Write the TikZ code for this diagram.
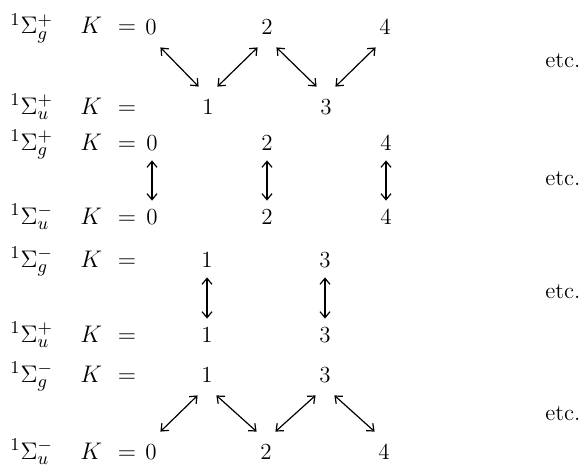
\documentclass[tikz,border=0pt]{standalone}
\usetikzlibrary{arrows.meta}
\DeclareMathSizes{11.5}{11.5}{9}{7}
\tikzset{
  lvl/.style={inner sep=0pt,minimum width=9pt,minimum height=20pt,
              font=\fontsize{11.5}{13}\selectfont},
  term/.style={anchor=base west,inner sep=0pt,
               font=\fontsize{11.5}{13}\selectfont},
  etcnode/.style={anchor=base west,inner sep=0pt,
                  font=\fontsize{11.5}{13}\selectfont},
  dbl/.style={{Straight Barb[length=3pt,width=5pt]}-{Straight Barb[length=3pt,width=5pt]},
              line width=0.6pt},
  vdbl/.style={dbl,shorten <=-1.5pt,shorten >=-2pt}
}

\begin{document}
\begin{tikzpicture}[x=0.5pt,y=-0.5pt]
  \useasboundingbox (0,0) rectangle (588,465);

  % term symbols
  \node[term] (sA) at (10,34)  {$^1\Sigma_g^+$};
  \node[term] (sB) at (10,114) {$^1\Sigma_u^+$};
  \node[term] (sC) at (10,150) {$^1\Sigma_g^+$};
  \node[term] (sD) at (10,224) {$^1\Sigma_u^-$};
  \node[term] (sE) at (10,267) {$^1\Sigma_g^-$};
  \node[term] (sF) at (10,342) {$^1\Sigma_u^+$};
  \node[term] (sG) at (10,382) {$^1\Sigma_g^-$};
  \node[term] (sH) at (10,459) {$^1\Sigma_u^-$};
  \foreach \r/\y in {A/34,B/114,C/150,D/224,E/267,F/342,G/382,H/459}
    \node[term] (k\r) at (80,\y) {$K\hspace{4.5pt}=$};

  % rotational levels
  \node[lvl] (a0) at (151,27)  {0};
  \node[lvl] (a2) at (267,27)  {2};
  \node[lvl] (a4) at (385,27)  {4};
  \node[lvl] (b1) at (208,107) {1};
  \node[lvl] (b3) at (326,107) {3};

  \node[lvl] (c0) at (152,143) {0};
  \node[lvl] (c2) at (267,143) {2};
  \node[lvl] (c4) at (386,143) {4};
  \node[lvl] (d0) at (152,217) {0};
  \node[lvl] (d2) at (267,217) {2};
  \node[lvl] (d4) at (386,217) {4};

  \node[lvl] (e1) at (207,260) {1};
  \node[lvl] (e3) at (325,260) {3};
  \node[lvl] (f1) at (207,335) {1};
  \node[lvl] (f3) at (325,335) {3};

  \node[lvl] (g1) at (207,375) {1};
  \node[lvl] (g3) at (325,375) {3};
  \node[lvl] (h0) at (151,452) {0};
  \node[lvl] (h2) at (266,452) {2};
  \node[lvl] (h4) at (384,452) {4};

  \node[etcnode] (etc1) at (545,68)  {etc.};
  \node[etcnode] (etc2) at (545,185) {etc.};
  \node[etcnode] (etc3) at (545,298) {etc.};
  \node[etcnode] (etc4) at (545,420) {etc.};

  % transitions
  \draw[dbl] (a0.south east) -- (b1.north west);
  \draw[dbl] (b1.north east) -- (a2.south west);
  \draw[dbl] (a2.south east) -- (b3.north west);
  \draw[dbl] (b3.north east) -- (a4.south west);

  \draw[vdbl] (c0) -- (d0);
  \draw[vdbl] (c2) -- (d2);
  \draw[vdbl] (c4) -- (d4);

  \draw[vdbl] (e1) -- (f1);
  \draw[vdbl] (e3) -- (f3);

  \draw[dbl] (h0.north east) -- (g1.south west);
  \draw[dbl] (g1.south east) -- (h2.north west);
  \draw[dbl] (h2.north east) -- (g3.south west);
  \draw[dbl] (g3.south east) -- (h4.north west);
\end{tikzpicture}
\end{document}
